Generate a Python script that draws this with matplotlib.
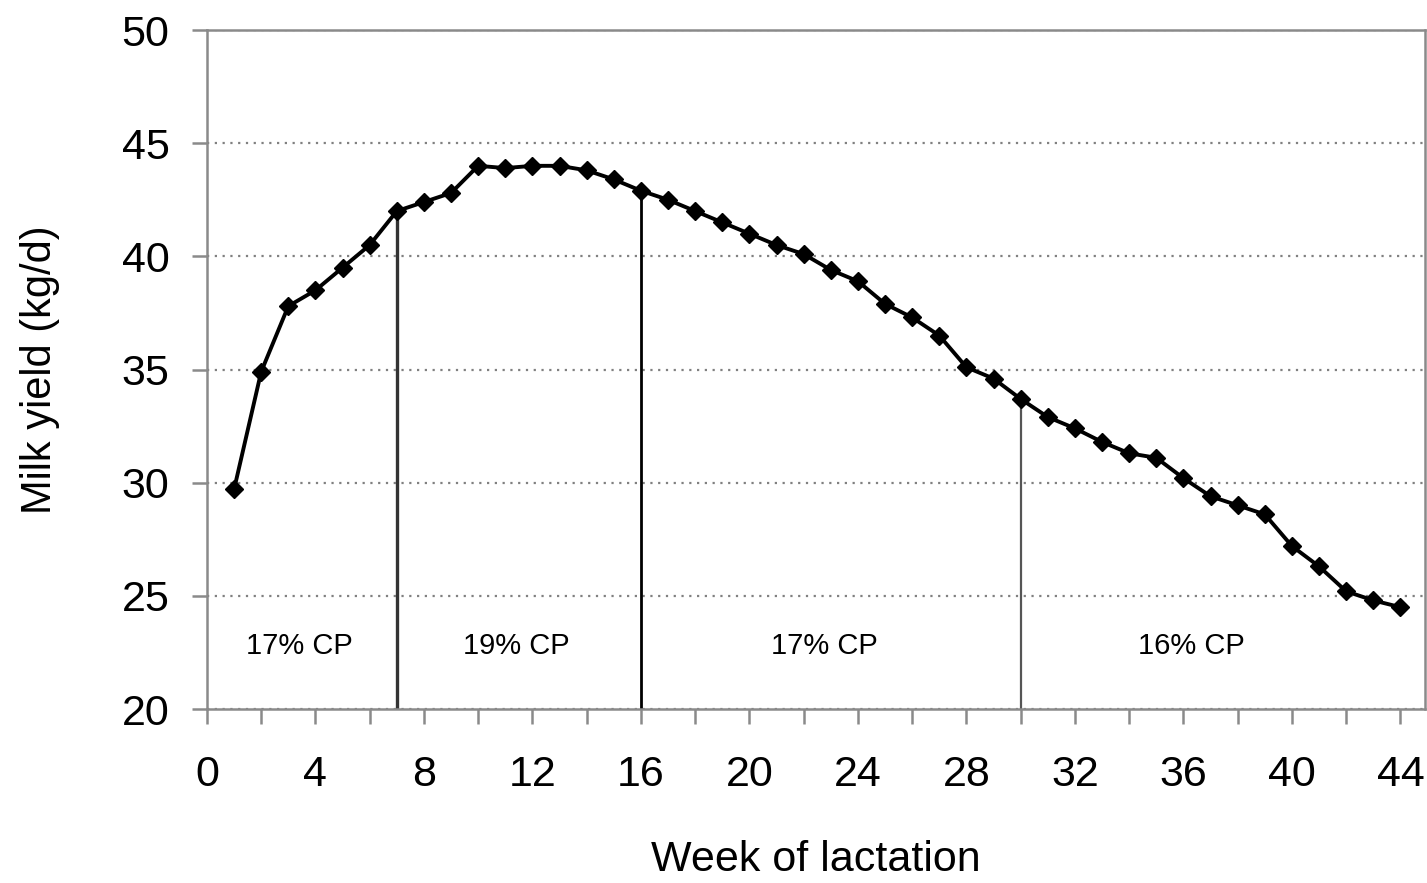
import matplotlib.pyplot as plt

plt.rcParams["font.family"] = ["Liberation Sans", "DejaVu Sans"]

# weekly milk yield over the lactation
weeks = list(range(1, 45))
milk_yield = [
    29.7, 34.9, 37.8, 38.5, 39.5, 40.5, 42.0, 42.4, 42.8, 44.0,
    43.9, 44.0, 44.0, 43.8, 43.4, 42.9, 42.5, 42.0, 41.5, 41.0,
    40.5, 40.1, 39.4, 38.9, 37.9, 37.3, 36.5, 35.1, 34.6, 33.7,
    32.9, 32.4, 31.8, 31.3, 31.1, 30.2, 29.4, 29.0, 28.6, 27.2,
    26.3, 25.2, 24.8, 24.5,
]

# diet changes (week the ration switched) and the protein level of each period
diet_change_weeks = [7, 16, 30]
diet_labels = ["17% CP", "19% CP", "17% CP", "16% CP"]
diet_label_x = [3.4, 11.4, 22.75, 36.3]
diet_label_y = 22.8

fig = plt.figure(figsize=(14.27, 8.83), dpi=100)
ax = fig.add_axes([0.145, 0.197, 0.8535, 0.769])

gray = "#8a8a8a"

ax.plot(weeks, milk_yield, color="black", linewidth=2.8,
        marker="D", markersize=9.5, markerfacecolor="black",
        markeredgecolor="black", zorder=3)

# vertical lines from the x axis up to the curve where the diet changed
change_y = [milk_yield[weeks.index(w)] for w in diet_change_weeks]
line_colors = ["#333333", "black", "#555555"]
line_widths = [2.4, 2.0, 1.6]
for w, yv, c, lw in zip(diet_change_weeks, change_y, line_colors, line_widths):
    ax.vlines(w, 20, yv, color=c, linewidth=lw, zorder=2)

for lab, x in zip(diet_labels, diet_label_x):
    ax.text(x, diet_label_y, lab, ha="center", va="center", fontsize=21,
            color="black")

ax.set_xlim(0, 44.9)
ax.set_ylim(20, 50)
ax.set_xticks(range(0, 45, 2))
ax.set_xticklabels([str(t) if t % 4 == 0 else "" for t in range(0, 45, 2)])
ax.set_yticks(range(20, 51, 5))

ax.yaxis.grid(True, linestyle=(0, (1, 2.5)), color="#808080", linewidth=1.6)
ax.set_axisbelow(True)

for sp in ax.spines.values():
    sp.set_color(gray)
    sp.set_linewidth(1.8)

ax.tick_params(axis="both", direction="out", length=11, width=1.8,
               color=gray, labelsize=31, labelcolor="black")
ax.tick_params(axis="x", pad=22)
ax.tick_params(axis="y", pad=16)

ax.set_xlabel("Week of lactation", fontsize=31)
ax.set_ylabel("Milk yield (kg/d)", fontsize=30)
ax.xaxis.set_label_coords(0.5, -0.222)
ax.xaxis.label.set_va("center")
ax.yaxis.set_label_coords(-0.137, 0.5)
ax.yaxis.label.set_va("center")

plt.savefig("out.png", dpi=100)
